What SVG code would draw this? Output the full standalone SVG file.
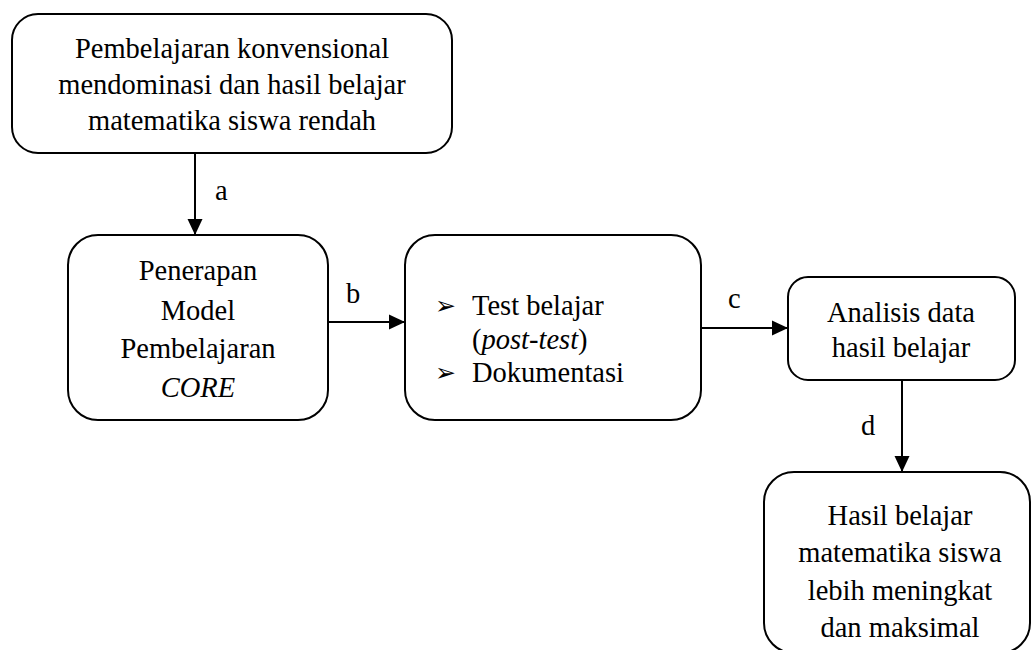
<svg xmlns="http://www.w3.org/2000/svg" width="1033" height="650" viewBox="0 0 1033 650">
<style>
.box{fill:#fff;stroke:#000;stroke-width:2}
.t{font-family:"Liberation Serif","Times New Roman",serif;font-size:28.5px;fill:#000;text-anchor:middle}
.l{font-family:"Liberation Serif","Times New Roman",serif;font-size:28.5px;fill:#000}
.bul{font-family:"DejaVu Sans",sans-serif;font-size:25px;fill:#000}
.c{stroke:#000;stroke-width:2;fill:none;marker-end:url(#ah)}
</style>
<defs>
<marker id="ah" markerUnits="userSpaceOnUse" markerWidth="18" markerHeight="18" viewBox="0 0 18 18" refX="16" refY="9" orient="auto">
<path d="M0,1.5 L16,9 L0,16.5 Z" fill="#000"/>
</marker>
</defs>
<rect width="1033" height="650" fill="#fff"/>
<g id="connectors">
<line class="c" x1="195" y1="153" x2="195" y2="235"/>
<line class="c" x1="328" y1="322" x2="405" y2="322"/>
<line class="c" x1="701" y1="328" x2="788" y2="328"/>
<line class="c" x1="902" y1="380" x2="902" y2="472"/>
<text class="l" x="215" y="200">a</text>
<text class="l" x="346" y="303">b</text>
<text class="l" x="728" y="308">c</text>
<text class="l" x="861" y="435">d</text>
</g>
<g id="n1">
<rect class="box" x="12" y="14" width="440" height="139" rx="26"/>
<text class="t" x="232" y="58">Pembelajaran konvensional</text>
<text class="t" x="232" y="94">mendominasi dan hasil belajar</text>
<text class="t" x="232" y="130">matematika siswa rendah</text>
</g>
<g id="n2">
<rect class="box" x="68" y="235" width="260" height="185" rx="30"/>
<text class="t" x="198" y="280">Penerapan</text>
<text class="t" x="198" y="320">Model</text>
<text class="t" x="198" y="358">Pembelajaran</text>
<text class="t" x="198" y="397" font-style="italic">CORE</text>
</g>
<g id="n3">
<rect class="box" x="405" y="235" width="296" height="185" rx="30"/>
<text class="bul" x="435" y="314">➢</text>
<text class="l" x="472" y="315">Test belajar</text>
<text class="l" x="472" y="349">(<tspan font-style="italic">post-test</tspan>)</text>
<text class="bul" x="435" y="381">➢</text>
<text class="l" x="472" y="382">Dokumentasi</text>
</g>
<g id="n4">
<rect class="box" x="788" y="277" width="227" height="103" rx="20"/>
<text class="t" x="901" y="322">Analisis data</text>
<text class="t" x="901" y="357">hasil belajar</text>
</g>
<g id="n5">
<rect class="box" x="764" y="472" width="266" height="181" rx="30"/>
<text class="t" x="900" y="525">Hasil belajar</text>
<text class="t" x="900" y="562">matematika siswa</text>
<text class="t" x="900" y="600">lebih meningkat</text>
<text class="t" x="900" y="637">dan maksimal</text>
</g>
</svg>
